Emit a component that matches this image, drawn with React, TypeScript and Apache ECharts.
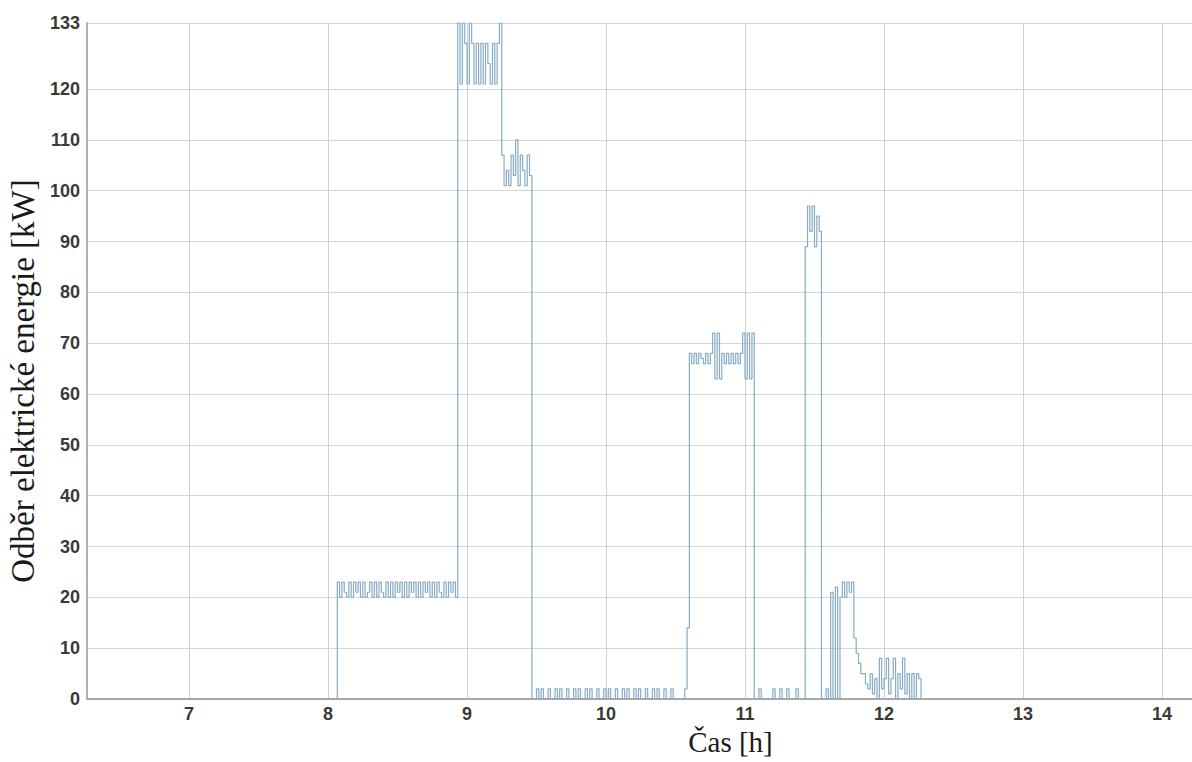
import React, { useEffect, useRef } from "react";
import * as echarts from "echarts";

// Sampling: one value per minute, starting at 8:00
const startHour = 8;
const sampleMinutes = 1;

// Power draw [kW], phase by phase
const idle0 = [0, 0, 0, 0];
const load1 = [
  23, 20, 23, 21, 20, 23, 20, 23, 21, 23,
  20, 23, 20, 21, 23, 20, 23, 20, 23, 21,
  20, 23, 20, 23, 20, 23, 21, 23, 20, 23,
  20, 23, 21, 23, 20, 23, 20, 23, 21, 23,
  20, 23, 20, 23, 21, 20, 23, 20, 23, 21,
  23, 20,
];
const load2 = [133, 121, 133, 129, 121, 133, 129, 121, 129, 121, 129, 121, 129, 125, 121, 129, 121, 129, 133];
const load3 = [107, 101, 104, 101, 107, 103, 110, 101, 107, 104, 101, 107, 103];
const idle1 = [
  0, 0, 2, 0, 2, 0, 0, 2, 0, 0,
  2, 0, 2, 0, 0, 2, 0, 0, 2, 0,
  2, 0, 0, 2, 0, 2, 0, 0, 2, 0,
  0, 2, 0, 2, 0, 0, 2, 0, 0, 2,
  0, 2, 0, 0, 2, 0, 2, 0, 0, 2,
  0, 0, 2, 0, 2, 0, 0, 2, 0, 0,
  2, 0, 0, 0, 0, 0, 2,
];
const ramp = [14];
const load4 = [
  68, 66, 68, 66, 68, 67, 66, 68, 66, 68,
  72, 63, 72, 63,
  68, 66, 68, 66, 68, 66, 68, 66, 68,
  72, 63, 72, 63, 72,
];
const idle2 = [0, 0, 2, 0, 0, 0, 0, 0, 2, 0, 0, 2, 0, 0, 2, 0, 0, 0, 2, 0, 0, 0];
const load5 = [89, 97, 92, 97, 89, 95, 92];
const tail = [
  0, 0, 2, 0, 21, 0, 22, 0, 20, 23,
  20, 23, 21, 23, 12, 9, 7, 5, 5, 3,
  2, 5, 1, 4, 0, 8, 2, 4, 8, 1,
  4, 8, 0, 5, 2, 8, 1, 5, 0, 5,
  0, 5, 4, 0,
];

const yTicks = [0, 10, 20, 30, 40, 50, 60, 70, 80, 90, 100, 110, 120, 133];
const xTicks = [7, 8, 9, 10, 11, 12, 13, 14];

const allValues = [...idle0, ...load1, ...load2, ...load3, ...idle1, ...ramp, ...load4, ...idle2, ...load5, ...tail];
const seriesData = allValues.map((v, i) => [startHour + (i * sampleMinutes) / 60, v]);

export default function App() {
  const ref = useRef<HTMLDivElement>(null);
  useEffect(() => {
    if (!ref.current) return;
    const chart = echarts.init(ref.current, undefined, { renderer: "svg" });
    chart.setOption({
      animation: false,
      backgroundColor: "#ffffff",
      grid: { left: 87, right: 0, top: 23, bottom: 63, containLabel: false, outerBoundsMode: "none" },
      xAxis: {
        type: "value",
        min: 6.266,
        max: 14.216,
        name: "Čas [h]",
        nameLocation: "middle",
        nameGap: 28,
        nameTextStyle: {
          fontFamily: "Liberation Serif",
          fontSize: 29,
          color: "#1a1a1a",
          padding: [0, 0, 0, 182],
        },
        axisLine: { show: true, lineStyle: { color: "#a8a8a8", width: 2 } },
        axisTick: { show: false, customValues: xTicks },
        axisLabel: {
          customValues: xTicks,
          fontFamily: "Liberation Sans",
          fontWeight: "bold",
          fontSize: 18,
          color: "#3a3a3a",
          margin: 6,
        },
        splitLine: { show: true, lineStyle: { color: "#cfcfcf", width: 1 } },
      },
      yAxis: {
        type: "value",
        min: 0,
        max: 133,
        name: "Odběr elektrické energie [kW]",
        nameLocation: "middle",
        nameGap: 47,
        nameTextStyle: {
          fontFamily: "Liberation Serif",
          fontSize: 33,
          color: "#1a1a1a",
          padding: [0, 40, 0, 0],
        },
        axisLine: { show: true, lineStyle: { color: "#b0b0b0", width: 2 } },
        axisTick: { show: false, customValues: yTicks },
        axisLabel: {
          customValues: yTicks,
          fontFamily: "Liberation Sans",
          fontWeight: "bold",
          fontSize: 18,
          color: "#3a3a3a",
          margin: 7,
        },
        splitLine: { show: true, lineStyle: { color: "#d6d6d6", width: 1 } },
      },
      series: [
        {
          type: "line",
          step: "end",
          data: seriesData,
          showSymbol: false,
          symbol: "none",
          lineStyle: { color: "#86acc7", width: 1.2 },
          z: 3,
        },
      ],
    });
    return () => chart.dispose();
  }, []);
  return (
    <div
      ref={ref}
      style={{ position: "fixed", left: 0, top: 0, width: 1192, height: 762, background: "#fff" }}
    />
  );
}
